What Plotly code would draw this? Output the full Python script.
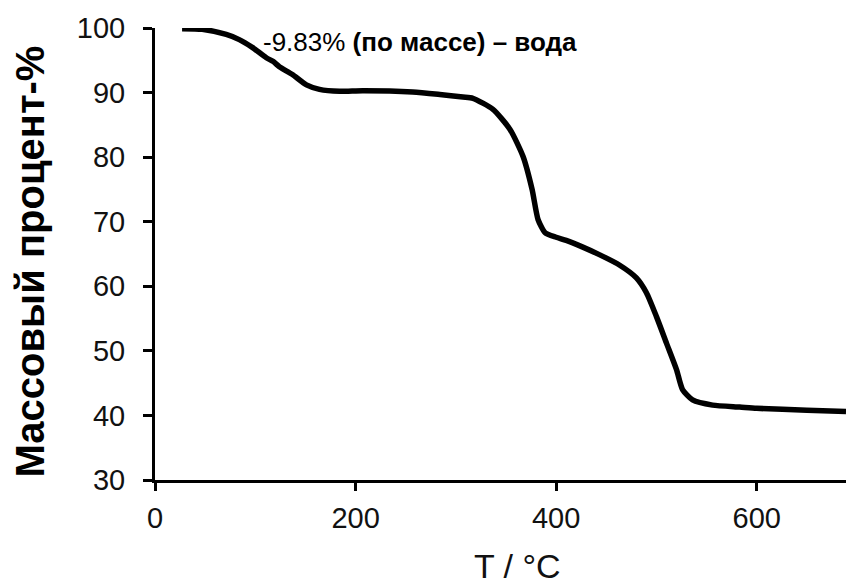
import plotly.graph_objects as go

# TGA curve: temperature (°C) and residual mass (%)
temperature = [27, 47, 71, 84, 97, 111, 118, 124, 137, 151, 164, 184, 207, 257, 284,
               307, 317, 337, 354, 367, 376, 382, 389, 400, 410, 426, 443, 463, 480,
               490, 500, 510, 520, 526, 536, 556, 583, 600, 650, 689]
mass_pct = [99.9, 99.8, 99.0, 98.2, 97.0, 95.4, 94.8, 94.0, 92.8, 91.2, 90.5, 90.2,
            90.3, 90.1, 89.7, 89.3, 89.1, 87.4, 84.3, 80.1, 75.0, 70.3, 68.3, 67.6,
            67.1, 66.1, 64.9, 63.3, 61.3, 59.0, 55.3, 51.2, 47.1, 44.0, 42.4, 41.6,
            41.3, 41.1, 40.8, 40.6]

x_ticks = [0, 200, 400, 600]
y_ticks = [30, 40, 50, 60, 70, 80, 90, 100]

x_title = "T / °C"
y_title = "Массовый процент-%"
note = "-9.83% <b>(по массе) – вода</b>"

FONT = "Liberation Sans, Arial, sans-serif"

W, H = 846, 585
M_L, M_R, M_T, M_B = 155, 0, 28, 105
plot_w = W - M_L - M_R
plot_h = H - M_T - M_B

fig = go.Figure()
fig.add_trace(go.Scatter(
    x=temperature, y=mass_pct, mode="lines",
    line=dict(color="black", width=5.5, shape="spline", smoothing=0.6),
    showlegend=False, hoverinfo="skip",
))

axis_common = dict(
    showgrid=False, zeroline=False, showline=True, linecolor="black", linewidth=3,
    ticks="outside", tickcolor="black", tickwidth=3,
    tickfont=dict(family=FONT, size=29, color="#111"),
)

fig.update_xaxes(range=[0, 689], tickvals=x_ticks, ticklen=8,
                 ticklabelstandoff=2, **axis_common)
fig.update_yaxes(range=[30, 100], tickvals=y_ticks, ticklen=9,
                 ticklabelstandoff=12, **axis_common)

# annotation above the first mass-loss step
fig.add_annotation(text=note, x=(261 - M_L) / plot_w, y=97.8, xref="paper", yref="y",
                   xanchor="left", yanchor="middle", showarrow=False,
                   font=dict(family=FONT, size=26, color="black"))

# axis titles positioned in pixel terms around the plot area
fig.add_annotation(text=x_title, x=(517 - M_L) / plot_w, y=(480 - 566) / plot_h,
                   xref="paper", yref="paper", xanchor="center", yanchor="middle",
                   showarrow=False, font=dict(family=FONT, size=34, color="#111"))
fig.add_annotation(text=f"<b>{y_title}</b>", x=(29 - M_L) / plot_w,
                   y=(480 - 261.5) / plot_h, xref="paper", yref="paper",
                   xanchor="center", yanchor="middle",
                   textangle=-90, showarrow=False,
                   font=dict(family=FONT, size=40, color="black"))

fig.update_layout(
    width=W, height=H,
    margin=dict(l=M_L, r=M_R, t=M_T, b=M_B),
    paper_bgcolor="white", plot_bgcolor="white",
)

fig.write_html("out.html")
